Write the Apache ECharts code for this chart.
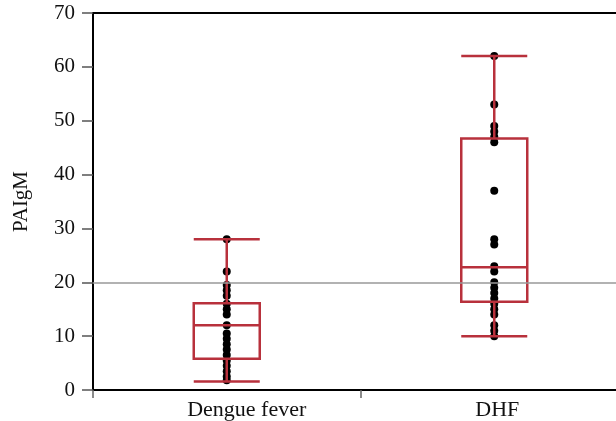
<!DOCTYPE html>
<html>
<head>
<meta charset="utf-8">
<script src="https://cdn.jsdelivr.net/npm/echarts@6/dist/echarts.min.js"></script>
<style>html,body{margin:0;padding:0;background:#fff}#c{width:616px;height:421px}</style>
</head>
<body>
<div id="c"></div>
<script>
const categories = ["Dengue fever", "DHF"];
const yTicks = [0, 10, 20, 30, 40, 50, 60, 70];
// box stats: [min, Q1, median, Q3, max]
const boxDF = [1.6, 5.8, 12, 16.1, 28];
const boxDHF = [10, 16.4, 22.8, 46.7, 62];
const pointsDF = [28, 22, 19.5, 18.5, 17.5, 16, 15, 14, 12, 10.5, 9.5, 8.5, 7.5, 6.5, 5.5, 4.5, 3.5, 2.5, 1.8];
const pointsDHF = [62, 53, 49, 48, 47, 46, 37, 28, 27, 23, 22, 20, 19, 18, 17, 16, 15, 14, 12, 11, 10];
const refValue = 20;

const serif = '"Liberation Serif", "DejaVu Serif", serif';
const red = '#b8313c';

const scatterData = [];
pointsDF.forEach(v => scatterData.push([categories[0], v]));
pointsDHF.forEach(v => scatterData.push([categories[1], v]));

const chart = echarts.init(document.getElementById('c'));
chart.setOption({
  animation: false,
  grid: { left: 93, width: 535, top: 13, height: 377, outerBoundsMode: 'none', containLabel: false,
    show: true, borderColor: '#000', borderWidth: 2, backgroundColor: 'transparent' },
  xAxis: {
    type: 'category',
    data: categories,
    boundaryGap: true,
    axisLine: { lineStyle: { color: '#000', width: 2 } },
    axisTick: { show: true, length: 8, lineStyle: { color: '#666', width: 1.5 }, interval: 0 },
    axisLabel: {
      fontFamily: serif, fontSize: 22, color: '#111', margin: 9,
      formatter: (v, i) => (i === 0 ? '{a|' + v + '}' : '{b|' + v + '}'),
      rich: {
        a: { fontFamily: serif, fontSize: 22, color: '#111', padding: [0, 0, 0, 40] },
        b: { fontFamily: serif, fontSize: 22, color: '#111', padding: [0, 0, 0, 6] }
      }
    }
  },
  yAxis: {
    type: 'value',
    min: 0, max: 70, interval: 10,
    name: 'PAIgM',
    nameLocation: 'middle',
    nameGap: 61,
    nameTextStyle: { fontFamily: serif, fontSize: 21, color: '#111' },
    splitLine: { show: false },
    axisLine: { show: true, lineStyle: { color: '#000', width: 2 } },
    axisTick: { show: true, length: 11, lineStyle: { color: '#555', width: 1.5 } },
    axisLabel: { fontFamily: serif, fontSize: 21, color: '#111', margin: 18,
      formatter: v => (yTicks.indexOf(v) >= 0 ? String(v) : '') }
  },
  series: [
    {
      type: 'scatter',
      data: scatterData,
      symbolSize: 8,
      itemStyle: { color: '#000', opacity: 1 },
      z: 2,
      markLine: {
        silent: true,
        symbol: ['none', 'none'],
        label: { show: false },
        lineStyle: { color: '#999', width: 1.5, type: 'solid' },
        data: [{ yAxis: refValue }]
      }
    },
    {
      type: 'boxplot',
      data: [boxDF, boxDHF],
      boxWidth: [66, 66],
      itemStyle: { color: 'rgba(0,0,0,0)', borderColor: red, borderWidth: 2.5 },
      z: 3
    }
  ]
});
</script>
</body>
</html>
